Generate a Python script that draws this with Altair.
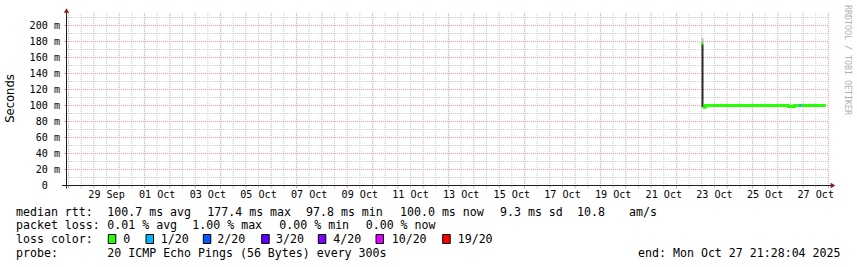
import altair as alt
import pandas as pd

# ---------------- data ----------------
# graph time window
window = ["2025-09-27 23:00", "2025-10-28 01:00"]

# y axis (milliseconds)
y_top = 215
y_tick_values = [0, 20, 40, 60, 80, 100, 120, 140, 160, 180, 200]
y_tick_numbers = ["0", "20", "40", "60", "80", "100", "120", "140", "160", "180", "200"]
y_tick_units = ["", "m", "m", "m", "m", "m", "m", "m", "m", "m", "m"]

# x axis labels (centred on noon of the day)
x_label_days = ["2025-09-29", "2025-10-01", "2025-10-03", "2025-10-05", "2025-10-07",
                "2025-10-09", "2025-10-11", "2025-10-13", "2025-10-15", "2025-10-17",
                "2025-10-19", "2025-10-21", "2025-10-23", "2025-10-25", "2025-10-27"]
x_label_texts = ["29 Sep", "01 Oct", "03 Oct", "05 Oct", "07 Oct", "09 Oct", "11 Oct",
                 "13 Oct", "15 Oct", "17 Oct", "19 Oct", "21 Oct", "23 Oct", "25 Oct", "27 Oct"]

# median rtt (ms) line segments, step-after
med_time = ["2025-10-22 23:20", "2025-10-23 01:10",
            "2025-10-23 00:55", "2025-10-23 03:20", "2025-10-26 10:00",
            "2025-10-26 15:50", "2025-10-27 21:28"]
med_ms = [177.4, 177.4,
          97.8, 100.0, 98.8, 100.0, 100.0]
med_seg = [0, 0, 1, 1, 1, 1, 1]

# samples with packet loss 1/20
loss1_time = ["2025-10-26 20:20", "2025-10-26 22:20"]
loss1_ms = [100.0, 100.0]

# smoke (ping spread) of the first sample
smoke_time = ["2025-10-23 00:40", "2025-10-23 00:40"]
smoke_lo = [97.8, 177.4]
smoke_hi = [177.4, 184.0]
smoke_col = ["#2a2a2a", "#b8b8b8"]

# legend
loss_labels = ["0", "1/20", "2/20", "3/20", "4/20", "10/20", "19/20"]
loss_colors = ["#26ff00", "#00b8ff", "#0059ff", "#5e00ff", "#7e00ff", "#dd00ff", "#ff0000"]

rtt_items = ["median rtt:", "100.7 ms avg", "177.4 ms max", "97.8 ms min",
             "100.0 ms now", "9.3 ms sd", "10.8", "am/s"]
loss_items = ["packet loss:", "0.01 % avg", "1.00 % max", "0.00 % min", "0.00 % now"]
probe_items = ["probe:", "20 ICMP Echo Pings (56 Bytes) every 300s"]
end_text = "end: Mon Oct 27 21:28:04 2025"

# ---------------- layout (pixels) ----------------
W, H = 762, 172
OX, OY = 67, 13
rtt_x = [16, 107.3, 207.3, 306, 400, 500, 577, 629]
loss_x = [16, 107.3, 192.3, 279.3, 365.7]
probe_x = [16, 107.3]
swatch_x = [108.3, 146, 203.3, 261.7, 318.3, 376, 442.7]
label_x = [123.3, 160.7, 217.3, 276, 333.3, 391.7, 457.7]
line_y = [215.5, 229.2, 243, 256.7]

t0 = pd.Timestamp(window[0])
span = (pd.Timestamp(window[1]) - t0) / pd.Timedelta(days=1)


def days(ts):
    return [(pd.Timestamp(t) - t0) / pd.Timedelta(days=1) for t in ts]


xs = alt.Scale(domain=[0, span], range=[0.5, W + 0.5], nice=False, zero=False)
ys = alt.Scale(domain=[0, y_top], range=[H + 0.5, 0.5], nice=False, zero=False)

MONO = "DejaVu Sans Mono"
GREY_GRID = "#cccccc"
RED_GRID = "#eea0a0"
AXIS_COL = "#1e1e1e"
ARROW_COL = "#8b1c1c"

# ---------------- grid ----------------
grid_times = pd.date_range("2025-09-28 00:00", "2025-10-28 00:00", freq="12h")
vgrid = pd.DataFrame({
    "d": days(grid_times),
    "major": [t.hour == 0 for t in grid_times],
})
hvals = list(range(10, 220, 10))
hgrid = pd.DataFrame({"v": hvals, "major": [v % 20 == 0 for v in hvals]})

vminor = alt.Chart(vgrid[~vgrid.major]).mark_rule(
    color=GREY_GRID, strokeWidth=1, strokeDash=[1, 1]).encode(
    x=alt.X("d:Q", scale=xs, axis=None), y=alt.value(0), y2=alt.value(H + 0.5))
hminor = alt.Chart(hgrid[~hgrid.major]).mark_rule(
    color=GREY_GRID, strokeWidth=1, strokeDash=[1, 1]).encode(
    y=alt.Y("v:Q", scale=ys, axis=None), x=alt.value(0), x2=alt.value(W))
vmajor = alt.Chart(vgrid[vgrid.major]).mark_rule(
    color=RED_GRID, strokeWidth=1, strokeDash=[1, 1]).encode(
    x=alt.X("d:Q", scale=xs, axis=None), y=alt.value(0), y2=alt.value(H + 0.5))
hmajor = alt.Chart(hgrid[hgrid.major]).mark_rule(
    color=RED_GRID, strokeWidth=1, strokeDash=[1, 1]).encode(
    y=alt.Y("v:Q", scale=ys, axis=None), x=alt.value(0), x2=alt.value(W))
vticks = alt.Chart(vgrid).mark_rule(strokeWidth=1).encode(
    x=alt.X("d:Q", scale=xs, axis=None), y=alt.value(H + 0.5), y2=alt.value(H + 3.5),
    color=alt.Color("major:N", scale=alt.Scale(domain=[True, False], range=[RED_GRID, GREY_GRID]),
                    legend=None))
yticks = alt.Chart(pd.DataFrame({"v": y_tick_values[1:]})).mark_rule(
    color=RED_GRID, strokeWidth=1).encode(
    y=alt.Y("v:Q", scale=ys, axis=None), x=alt.value(-3), x2=alt.value(0))

# ---------------- data marks ----------------
smoke = alt.Chart(pd.DataFrame({
    "d": days(smoke_time), "lo": smoke_lo, "hi": smoke_hi, "c": smoke_col})).mark_rule(
    strokeWidth=2).encode(
    x=alt.X("d:Q", scale=xs, axis=None),
    y=alt.Y("lo:Q", scale=ys, axis=None), y2="hi:Q",
    color=alt.Color("c:N", scale=None))

med = alt.Chart(pd.DataFrame({"d": days(med_time), "v": med_ms, "s": med_seg})).mark_line(
    interpolate="step-after", strokeWidth=3, strokeCap="butt", color=loss_colors[0]).encode(
    x=alt.X("d:Q", scale=xs, axis=None),
    y=alt.Y("v:Q", scale=ys, axis=None),
    detail="s:N")

loss1 = alt.Chart(pd.DataFrame({"d": days(loss1_time), "v": loss1_ms})).mark_line(
    strokeWidth=3, strokeCap="butt", color=loss_colors[1]).encode(
    x=alt.X("d:Q", scale=xs, axis=None),
    y=alt.Y("v:Q", scale=ys, axis=None))

# ---------------- axes ----------------
one = pd.DataFrame({"a": [1]})
xaxis = alt.Chart(one).mark_rule(color=AXIS_COL, strokeWidth=1).encode(
    x=alt.value(-5), x2=alt.value(W + 3), y=alt.value(H + 0.5))
yaxis = alt.Chart(one).mark_rule(color=AXIS_COL, strokeWidth=1).encode(
    x=alt.value(-0.5), y=alt.value(-3), y2=alt.value(H + 3.5))
arrow_r = alt.Chart(one).mark_point(shape="triangle-right", filled=True, size=28,
                                    color=ARROW_COL, opacity=1).encode(
    x=alt.value(W + 4), y=alt.value(H + 0.5))
arrow_u = alt.Chart(one).mark_point(shape="triangle-up", filled=True, size=28,
                                    color=ARROW_COL, opacity=1).encode(
    x=alt.value(-0.5), y=alt.value(-2.5))

ytab = pd.DataFrame({"v": y_tick_values, "n": y_tick_numbers, "u": y_tick_units})
ynums = alt.Chart(ytab).mark_text(
    font=MONO, fontSize=10.1, align="right", baseline="middle", color="black").encode(
    y=alt.Y("v:Q", scale=ys, axis=None), x=alt.value(47.8 - OX), text="n:N")
yunits = alt.Chart(ytab).mark_text(
    font=MONO, fontSize=10.1, align="left", baseline="middle", color="black").encode(
    y=alt.Y("v:Q", scale=ys, axis=None), x=alt.value(53.9 - OX), text="u:N")

xl = pd.DataFrame({
    "d": [x + 0.5 for x in days([d + " 00:00" for d in x_label_days])],
    "t": x_label_texts})
xlabels = alt.Chart(xl).mark_text(
    font=MONO, fontSize=10.1, align="center", baseline="alphabetic", color="black").encode(
    x=alt.X("d:Q", scale=xs, axis=None), y=alt.value(198 - OY), text="t:N")

ytitle = alt.Chart(one).mark_text(
    text="Seconds", font="DejaVu Sans", fontSize=11.6, angle=270, align="center",
    baseline="middle", color="black").encode(x=alt.value(11 - OX), y=alt.value(98.5 - OY))

watermark = alt.Chart(one).mark_text(
    text="RRDTOOL / TOBI OETIKER", font=MONO, fontSize=8.3, angle=90, align="center",
    baseline="middle", color="#b0b0b0").encode(x=alt.value(847 - OX), y=alt.value(60 - OY))

# ---------------- legend ----------------
rows = []
for txt, x in zip(rtt_items, rtt_x):
    rows.append({"t": txt, "px": x - OX, "py": line_y[0] - OY})
for txt, x in zip(loss_items, loss_x):
    rows.append({"t": txt, "px": x - OX, "py": line_y[1] - OY})
rows.append({"t": "loss color:", "px": 16 - OX, "py": line_y[2] - OY})
for txt, x in zip(loss_labels, label_x):
    rows.append({"t": txt, "px": x - OX, "py": line_y[2] - OY})
for txt, x in zip(probe_items, probe_x):
    rows.append({"t": txt, "px": x - OX, "py": line_y[3] - OY})
legend_text = alt.Chart(pd.DataFrame(rows)).mark_text(
    font=MONO, fontSize=11.6, align="left", baseline="alphabetic", color="black").encode(
    x=alt.X("px:Q", scale=None), y=alt.Y("py:Q", scale=None), text="t:N")

end_mark = alt.Chart(one).mark_text(
    text=end_text, font=MONO, fontSize=11.6, align="right", baseline="alphabetic",
    color="black").encode(x=alt.value(840.5 - OX), y=alt.value(line_y[3] - OY))

sw = pd.DataFrame({
    "x1": [x - OX for x in swatch_x],
    "x2": [x - OX + 7.5 for x in swatch_x],
    "y1": [234.5 - OY] * len(swatch_x),
    "y2": [243.5 - OY] * len(swatch_x),
    "c": loss_colors})
swatches = alt.Chart(sw).mark_rect(stroke="black", strokeWidth=1).encode(
    x=alt.X("x1:Q", scale=None), x2="x2:Q",
    y=alt.Y("y1:Q", scale=None), y2="y2:Q",
    fill=alt.Color("c:N", scale=None))

chart = alt.layer(
    vminor, hminor, vmajor, hmajor, vticks, yticks,
    smoke, med, loss1,
    xaxis, yaxis, arrow_r, arrow_u,
    ynums, yunits, xlabels, ytitle, watermark,
    legend_text, end_mark, swatches,
).properties(
    width=W, height=H,
    autosize=alt.AutoSizeParams(type="none"),
    padding={"left": OX, "top": OY, "right": 857 - OX - W, "bottom": 267 - OY - H},
    background="white",
).configure_view(stroke=None)

chart.save("out.html", embed_options={"renderer": "svg", "actions": False})
